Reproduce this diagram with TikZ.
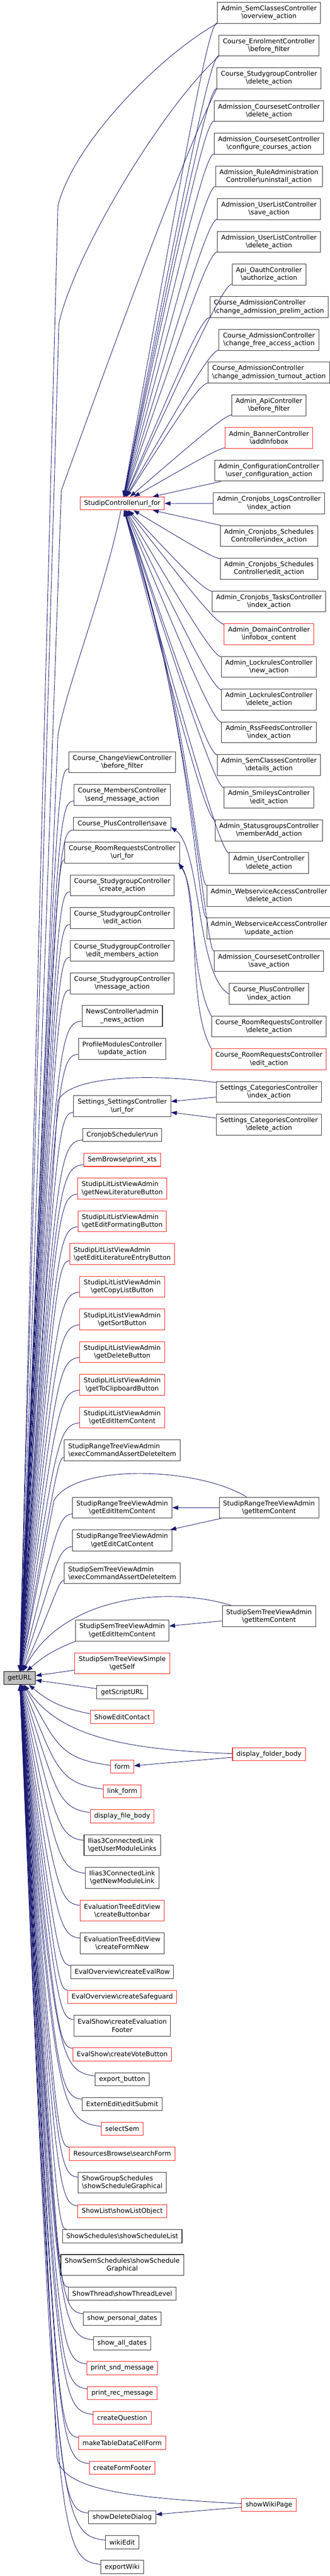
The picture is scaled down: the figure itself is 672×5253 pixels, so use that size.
\documentclass[tikz,border=0pt]{standalone}
\usepackage{fontspec}
\setmainfont{DejaVu Sans}
\usetikzlibrary{arrows.meta,calc}
\definecolor{edgeblue}{HTML}{191970}
\definecolor{fnborder}{HTML}{333333}
\definecolor{truncred}{HTML}{FF2020}
\definecolor{urlgray}{HTML}{BFBFBF}
\newcommand{\bsl}{\textbackslash}
\tikzset{fn/.style={draw=fnborder,line width=0.8pt,fill=white,font=\fontsize{10pt}{12pt}\selectfont,inner xsep=6pt,inner ysep=3pt,minimum height=20pt,align=center},
fnred/.style={fn,draw=truncred},tall/.style={minimum height=32pt},lft/.style={align=left}}

\begin{document}
\begin{tikzpicture}[x=0.75pt,y=-0.75pt]
\tikzset{call/.style={-{Triangle[length=9pt,width=6.5pt]},draw=edgeblue,line width=0.7pt}}
\useasboundingbox (0,0) rectangle (672,5253);
\node[fn,fill=urlgray,draw=black] (geturl) at (39.8,3421.7) {getURL};
\node[fnred] (url) at (249,1026.7) {StudipController\bsl url\_for};
\node[fn,tall] (r1) at (548,26.3) {Admin\_SemClassesController\\\bsl overview\_action};
\node[fn,tall] (r2) at (548,93) {Course\_EnrolmentController\\\bsl before\_filter};
\node[fn,tall] (r3) at (548,159.7) {Course\_StudygroupController\\\bsl delete\_action};
\node[fn,tall] (r4) at (548,226.3) {Admission\_CoursesetController\\\bsl delete\_action};
\node[fn,tall] (r5) at (548,293) {Admission\_CoursesetController\\\bsl configure\_courses\_action};
\node[fn,tall] (r6) at (548,359.7) {Admission\_RuleAdministration\\Controller\bsl uninstall\_action};
\node[fn,tall] (r7) at (548,426.4) {Admission\_UserListController\\\bsl save\_action};
\node[fn,tall] (r8) at (548,493.1) {Admission\_UserListController\\\bsl delete\_action};
\node[fn,tall] (r9) at (548,559.7) {Api\_OauthController\\\bsl authorize\_action};
\node[fn,tall,lft] (r10) at (548,626.4) {Course\_AdmissionController\\\bsl change\_admission\_prelim\_action};
\node[fn,tall] (r11) at (548,693.1) {Course\_AdmissionController\\\bsl change\_free\_access\_action};
\node[fn,tall,lft] (r12) at (548,759.8) {Course\_AdmissionController\\\bsl change\_admission\_turnout\_action};
\node[fn,tall] (r13) at (548,826.5) {Admin\_ApiController\\\bsl before\_filter};
\node[fnred,tall] (r14) at (548,893.1) {Admin\_BannerController\\\bsl addInfobox};
\node[fn,tall] (r15) at (548,959.8) {Admin\_ConfigurationController\\\bsl user\_configuration\_action};
\node[fn,tall] (r16) at (548,1026.5) {Admin\_Cronjobs\_LogsController\\\bsl index\_action};
\node[fn,tall] (r17) at (548,1093.2) {Admin\_Cronjobs\_Schedules\\Controller\bsl index\_action};
\node[fn,tall] (r18) at (548,1159.9) {Admin\_Cronjobs\_Schedules\\Controller\bsl edit\_action};
\node[fn,tall] (r19) at (548,1226.5) {Admin\_Cronjobs\_TasksController\\\bsl index\_action};
\node[fnred,tall] (r20) at (548,1293.2) {Admin\_DomainController\\\bsl infobox\_content};
\node[fn,tall] (r21) at (548,1359.9) {Admin\_LockrulesController\\\bsl new\_action};
\node[fn,tall] (r22) at (548,1426.6) {Admin\_LockrulesController\\\bsl delete\_action};
\node[fn,tall] (r23) at (548,1493.3) {Admin\_RssFeedsController\\\bsl index\_action};
\node[fn,tall] (r24) at (548,1559.9) {Admin\_SemClassesController\\\bsl details\_action};
\node[fn,tall] (r25) at (548,1626.6) {Admin\_SmileysController\\\bsl edit\_action};
\node[fn,tall] (r26) at (548,1693.3) {Admin\_StatusgroupsController\\\bsl memberAdd\_action};
\node[fn,tall] (r27) at (548,1760) {Admin\_UserController\\\bsl delete\_action};
\node[fn,tall] (r28) at (548,1826.7) {Admin\_WebserviceAccessController\\\bsl delete\_action};
\node[fn,tall] (r29) at (548,1893.3) {Admin\_WebserviceAccessController\\\bsl update\_action};
\node[fn,tall] (r30) at (548,1960) {Admission\_CoursesetController\\\bsl save\_action};
\node[fn,tall] (r31) at (548,2026.7) {Course\_PlusController\\\bsl index\_action};
\node[fn,tall] (r32) at (548,2093.4) {Course\_RoomRequestsController\\\bsl delete\_action};
\node[fnred,tall] (r33) at (548,2160.1) {Course\_RoomRequestsController\\\bsl edit\_action};
\node[fn,tall] (r34) at (548,2226.7) {Settings\_CategoriesController\\\bsl index\_action};
\node[fn,tall] (r35) at (548,2293.4) {Settings\_CategoriesController\\\bsl delete\_action};
\node[fn,tall] (rgi) at (548,3074.5) {StudipRangeTreeViewAdmin\\\bsl getItemContent};
\node[fn,tall] (sgi) at (548,3296) {StudipSemTreeViewAdmin\\\bsl getItemContent};
\node[fnred] (dfb) at (548,3577.2) {display\_folder\_body};
\node[fnred] (swp) at (548,5108) {showWikiPage};
\node[fn,tall] (m1) at (249,1554.5) {Course\_ChangeViewController\\\bsl before\_filter};
\node[fn,tall] (m2) at (249,1621.2) {Course\_MembersController\\\bsl send\_message\_action};
\node[fn] (m3) at (249,1680) {Course\_PlusController\bsl save};
\node[fn,tall] (m4) at (249,1738.5) {Course\_RoomRequestsController\\\bsl url\_for};
\node[fn,tall] (m5) at (249,1805.3) {Course\_StudygroupController\\\bsl create\_action};
\node[fn,tall] (m6) at (249,1872) {Course\_StudygroupController\\\bsl edit\_action};
\node[fn,tall] (m7) at (249,1938.7) {Course\_StudygroupController\\\bsl edit\_members\_action};
\node[fn,tall] (m8) at (249,2005.3) {Course\_StudygroupController\\\bsl message\_action};
\node[fn,tall] (m9) at (249,2072) {NewsController\bsl admin\\\_news\_action};
\node[fn,tall] (m10) at (249,2138.7) {ProfileModulesController\\\bsl update\_action};
\node[fn,tall] (m11) at (249,2255.8) {Settings\_SettingsController\\\bsl url\_for};
\node[fn] (m12) at (249,2314.5) {CronjobScheduler\bsl run};
\node[fnred] (m13) at (249,2365.2) {SemBrowse\bsl print\_xts};
\node[fnred,tall,lft] (m14) at (249,2423.8) {StudipLitListViewAdmin\\\bsl getNewLiteratureButton};
\node[fnred,tall,lft] (m15) at (249,2490.5) {StudipLitListViewAdmin\\\bsl getEditFormatingButton};
\node[fnred,tall,lft] (m16) at (249,2557.3) {StudipLitListViewAdmin\\\bsl getEditLiteratureEntryButton};
\node[fnred,tall] (m17) at (249,2624) {StudipLitListViewAdmin\\\bsl getCopyListButton};
\node[fnred,tall] (m18) at (249,2690.7) {StudipLitListViewAdmin\\\bsl getSortButton};
\node[fnred,tall] (m19) at (249,2757.3) {StudipLitListViewAdmin\\\bsl getDeleteButton};
\node[fnred,tall] (m20) at (249,2824) {StudipLitListViewAdmin\\\bsl getToClipboardButton};
\node[fnred,tall] (m21) at (249,2890.7) {StudipLitListViewAdmin\\\bsl getEditItemContent};
\node[fn,tall,lft] (m22) at (249,2957.2) {StudipRangeTreeViewAdmin\\\bsl execCommandAssertDeleteItem};
\node[fn,tall] (m23) at (249,3074.5) {StudipRangeTreeViewAdmin\\\bsl getEditItemContent};
\node[fn,tall] (m24) at (249,3141.2) {StudipRangeTreeViewAdmin\\\bsl getEditCatContent};
\node[fn,tall,lft] (m25) at (249,3208) {StudipSemTreeViewAdmin\\\bsl execCommandAssertDeleteItem};
\node[fn,tall] (m26) at (249,3325.2) {StudipSemTreeViewAdmin\\\bsl getEditItemContent};
\node[fnred,tall] (m27) at (249,3391.8) {StudipSemTreeViewSimple\\\bsl getSelf};
\node[fn] (m28) at (249,3450.7) {getScriptURL};
\node[fnred] (m29) at (249,3501.2) {ShowEditContact};
\node[fnred] (m30) at (249,3602.7) {form};
\node[fnred] (m31) at (249,3653) {link\_form};
\node[fnred] (m32) at (249,3704) {display\_file\_body};
\node[fn,tall,lft] (m33) at (249,3762.5) {Ilias3ConnectedLink\\\bsl getUserModuleLinks};
\node[fn,tall] (m34) at (249,3829.2) {Ilias3ConnectedLink\\\bsl getNewModuleLink};
\node[fnred,tall] (m35) at (249,3896) {EvaluationTreeEditView\\\bsl createButtonbar};
\node[fn,tall] (m36) at (249,3962.7) {EvaluationTreeEditView\\\bsl createFormNew};
\node[fn] (m37) at (249,4021.3) {EvalOverview\bsl createEvalRow};
\node[fnred] (m38) at (249,4072) {EvalOverview\bsl createSafeguard};
\node[fn,tall] (m39) at (249,4130.7) {EvalShow\bsl createEvaluation\\Footer};
\node[fnred] (m40) at (249,4189.3) {EvalShow\bsl createVoteButton};
\node[fn] (m41) at (249,4240) {export\_button};
\node[fn] (m42) at (249,4290.7) {ExternEdit\bsl editSubmit};
\node[fnred] (m43) at (249,4341.3) {selectSem};
\node[fnred] (m44) at (249,4392) {ResourcesBrowse\bsl searchForm};
\node[fn,tall,lft] (m45) at (249,4450.7) {ShowGroupSchedules\\\bsl showScheduleGraphical};
\node[fnred] (m46) at (249,4509.3) {ShowList\bsl showListObject};
\node[fn] (m47) at (249,4560) {ShowSchedules\bsl showScheduleList};
\node[fn,tall] (m48) at (249,4618.7) {ShowSemSchedules\bsl showSchedule\\Graphical};
\node[fn] (m49) at (249,4677.3) {ShowThread\bsl showThreadLevel};
\node[fn] (m50) at (249,4728) {show\_personal\_dates};
\node[fn] (m51) at (249,4778.7) {show\_all\_dates};
\node[fnred] (m52) at (249,4829.2) {print\_snd\_message};
\node[fnred] (m53) at (249,4880) {print\_rec\_message};
\node[fnred] (m54) at (249,4930.7) {createQuestion};
\node[fnred] (m55) at (249,4981.3) {makeTableDataCellForm};
\node[fnred] (m56) at (249,5032) {createFormFooter};
\node[fn] (m57) at (249,5133.2) {showDeleteDialog};
\node[fn] (m58) at (249,5184) {wikiEdit};
\node[fn] (m59) at (249,5234.7) {exportWiki};
\coordinate (hook) at (118,0);
\foreach \k in {1,...,25} \draw[call] (m\k) .. controls ($(m\k -| hook)+(0,16)$) and ($(m\k -| hook)+(-4,50)$) .. (geturl);
\foreach \k in {30,...,59} \draw[call] (m\k) .. controls ($(m\k -| hook)+(0,-16)$) and ($(m\k -| hook)+(-4,-50)$) .. (geturl);
\draw[call] (m26.south west) to[bend right=10] (geturl);
\draw[call] (m27) -- (geturl);
\draw[call] (m28) -- (geturl);
\draw[call] (m29) to[bend left=15] (geturl);
\draw[call] (url) .. controls (215,1200) and (135,1400) .. (118,1500) -- (geturl);
\foreach \k in {1,...,14} {
  \coordinate (a) at ($(r\k.west)+(-18,24)$);
  \draw[call] (r\k) .. controls (a) and ($(a)!0.25!(url)$) .. (url);
}
\foreach \k in {15,16,17} \draw[call] (r\k) -- (url);
\foreach \k in {18,...,27} {
  \coordinate (a) at ($(r\k.west)+(-18,-24)$);
  \draw[call] (r\k) .. controls (a) and ($(a)!0.3!(url)$) .. (url);
}
\foreach \k in {28,29,30} {
  \coordinate (a) at ($(r\k.west)+(-18,-24)$);
  \draw[call] (r\k) .. controls (a) and (392,1480) .. (url);
}
\draw[call] (r1.south west) .. controls (330,110) and (150,290) .. (118,420) -- (geturl);
\draw[call] (r2.south west) .. controls (330,220) and (150,520) .. (120,660) -- (geturl);
\draw[call] (r3.south west) .. controls (370,320) and (190,820) .. (125,1000) -- (geturl);
\draw[call] (r31.west) .. controls (400,1990) and (410,1730) .. ([yshift=-5pt]m3.east);
\draw[call] (r32.north west) .. controls (390,2000) and (395,1800) .. ([xshift=-2pt]m4.south east);
\draw[call] (r33.north west) .. controls (380,2050) and (410,1830) .. ([xshift=-2pt]m4.south east);
\draw[call] (r34) -- (m11);
\draw[call] (r35) -- (m11);
\draw[call] ([yshift=-2pt]r34.north west) .. controls (300,2188) and (140,2195) .. (118,2245) -- (geturl);
\draw[call] (rgi) -- (m23);
\draw[call] (rgi) -- (m24);
\draw[call] ([xshift=-34pt]rgi.north) .. controls (400,2990) and (150,2985) .. (110,3060) -- (geturl);
\draw[call] (sgi) -- (m26);
\draw[call] ([xshift=-57pt]sgi.north) .. controls (350,3235) and (130,3250) .. (geturl);
\draw[call] (dfb) -- (m30);
\draw[call] ([yshift=1pt]dfb.west) .. controls (250,3568) and (120,3540) .. (geturl);
\draw[call] (swp) -- (m57);
\draw[call] ([yshift=2pt]swp.west) .. controls (250,5093) and (125,5075) .. (116,5010) -- (geturl);
\end{tikzpicture}
\end{document}
